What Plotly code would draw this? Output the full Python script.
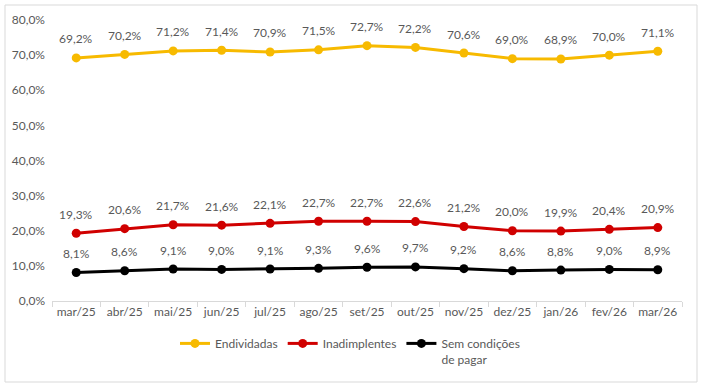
import plotly.graph_objects as go

meses = ["mar/25", "abr/25", "mai/25", "jun/25", "jul/25", "ago/25", "set/25",
         "out/25", "nov/25", "dez/25", "jan/26", "fev/26", "mar/26"]
endividadas = [69.2, 70.2, 71.2, 71.4, 70.9, 71.5, 72.7, 72.2, 70.6, 69.0, 68.9, 70.0, 71.1]
inadimplentes = [19.3, 20.6, 21.7, 21.6, 22.1, 22.7, 22.7, 22.6, 21.2, 20.0, 19.9, 20.4, 20.9]
sem_condicoes = [8.1, 8.6, 9.1, 9.0, 9.1, 9.3, 9.6, 9.7, 9.2, 8.6, 8.8, 9.0, 8.9]

y_ticks = [0, 10, 20, 30, 40, 50, 60, 70, 80]
y_tick_labels = [f"{v:.1f}%".replace(".", ",") for v in y_ticks]

series = [
    ("Endividadas", endividadas, "#F7BA00"),
    ("Inadimplentes", inadimplentes, "#D00000"),
    ("Sem condições<br>de pagar", sem_condicoes, "#000000"),
]

def fmt(v):
    return f"{v:.1f}%".replace(".", ",")

fig = go.Figure()
annotations = []
for name, vals, color in series:
    fig.add_trace(go.Scatter(
        x=meses, y=vals, name=name, mode="lines+markers",
        line=dict(color=color, width=3),
        marker=dict(color=color, size=9),
        cliponaxis=False,
    ))
    for m, v in zip(meses, vals):
        annotations.append(dict(x=m, y=v, text=fmt(v), showarrow=False,
                                yshift=19, font=dict(color="#595959", size=12)))

font_family = "Lato, Liberation Sans, sans-serif"
fig.update_layout(
    width=702, height=389,
    margin=dict(l=52, r=20, t=20, b=88),
    paper_bgcolor="white", plot_bgcolor="white",
    font=dict(family=font_family, size=12, color="#595959"),
    showlegend=True,
    annotations=annotations,
    legend=dict(orientation="h", x=0.473, xanchor="center", y=-0.1, yanchor="top",
                font=dict(size=12, color="#595959"), itemwidth=30, traceorder="normal",
                valign="top"),
    xaxis=dict(type="category", range=[-0.5, 12.5], showgrid=False, showline=True,
               linecolor="#D9D9D9",
               ticks="outside", tickson="boundaries", tickcolor="#D9D9D9", ticklen=5,
               tickangle=0, automargin=False,
               tickfont=dict(size=12, color="#595959")),
    yaxis=dict(range=[0, 80], tickvals=y_ticks, ticktext=y_tick_labels,
               showgrid=False, zeroline=False, showline=False, automargin=False,
               tickfont=dict(size=12, color="#595959"), ticklabelstandoff=6),
    shapes=[dict(type="rect", xref="paper", yref="paper",
                 x0=(5 - 52) / 630, x1=(697 - 52) / 630,
                 y0=(301 - 382) / 281, y1=(301 - 5) / 281,
                 line=dict(color="#D9D9D9", width=1), fillcolor="rgba(0,0,0,0)",
                 layer="below")],
)

fig.write_html("out.html", config={"displayModeBar": False},
               post_script="document.body.style.margin='0';document.body.style.overflow='hidden';")
